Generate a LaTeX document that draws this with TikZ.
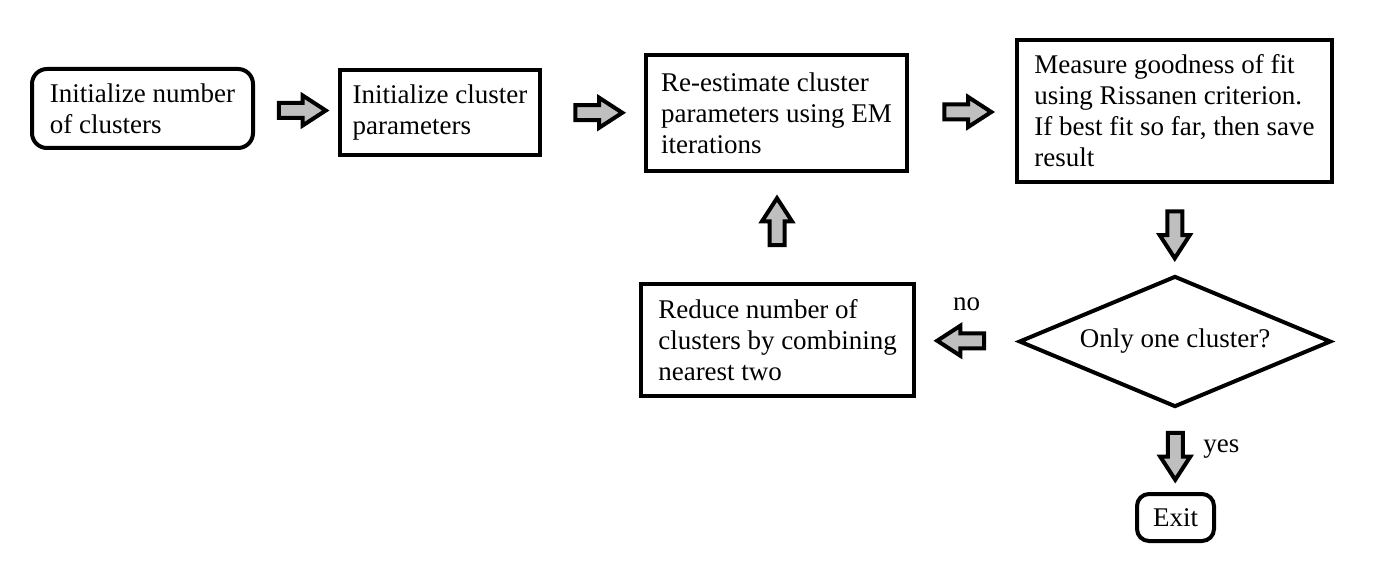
\documentclass[tikz,border=0pt]{standalone}
\usepackage{fontspec}
\setmainfont{Liberation Serif}
\usetikzlibrary{shapes.geometric,shapes.arrows,positioning,calc}

\begin{document}
\begin{tikzpicture}[x=1pt,y=-1pt,
    every node/.style={font=\fontsize{27}{31}\selectfont},
    stepbox/.style={draw,line width=4pt,align=left,inner sep=0pt},
    startbox/.style={stepbox,rounded corners=15pt},
    test/.style={diamond,draw,line width=4pt,aspect=2.34,inner sep=0pt,
      minimum width=312pt,minimum height=131pt},
    fat/.style={single arrow,draw,line width=4pt,fill=gray!50,inner sep=0pt,
      inner ysep=5.5pt,single arrow head extend=7.5pt,single arrow tip angle=66,
      minimum height=47pt}]
  \useasboundingbox (0,0) rectangle (1377,580);
  \node(init)[startbox,minimum width=221pt,minimum height=79pt] at (142.5,108.5)
    {Initialize number\\of clusters};
  \node(param)[stepbox,minimum width=200pt,minimum height=85pt] at (440,112.5)
    {Initialize cluster\\parameters};
  \node(reest)[stepbox,minimum width=261pt,minimum height=116pt] at (776.5,113)
    {Re-estimate cluster\\parameters using EM\\iterations};
  \node(measure)[stepbox,minimum width=315pt,minimum height=142pt] at (1174.5,111)
    {Measure goodness of fit\\using Rissanen criterion.\\If best fit so far, then save\\result};
  \node(only)[test] at (1175,341.5) {Only one cluster?};
  \node(reduce)[stepbox,minimum width=273pt,minimum height=112pt] at (777.5,340)
    {Reduce number of\\clusters by combining\\nearest two};
  \node(exit)[startbox,rounded corners=12pt,minimum width=77pt,minimum height=47pt]
    at (1175.5,517.5) {Exit};
  % block arrows between the steps
  \node(a1)[fat] at ($(init.east)!0.5!(param.west)$) {};
  \node(a2)[fat] at ($(param.east)!0.5!(reest.west)$) {};
  \node(a3)[fat] at ($(reest.east)!0.5!(measure.west)$) {};
  \node(a4)[fat,rotate=-90] at ($(measure.south)!0.5!(only.north)$) {};
  \node(a5)[fat,rotate=180] at ($(only.west)!0.5!(reduce.east)$) {};
  \node(a6)[fat,rotate=90] at ($(reduce.north)!0.5!(reest.south)$) {};
  \node(a7)[fat,rotate=-90] at ($(only.south)!0.5!(exit.north)$) {};
  \node(no)[anchor=south,inner sep=0pt] at ([yshift=30pt]a5.center) {no};
  \node(yes)[anchor=base west,inner sep=0pt] at ([xshift=28pt,yshift=-2pt]a7.center) {yes};
\end{tikzpicture}
\end{document}
